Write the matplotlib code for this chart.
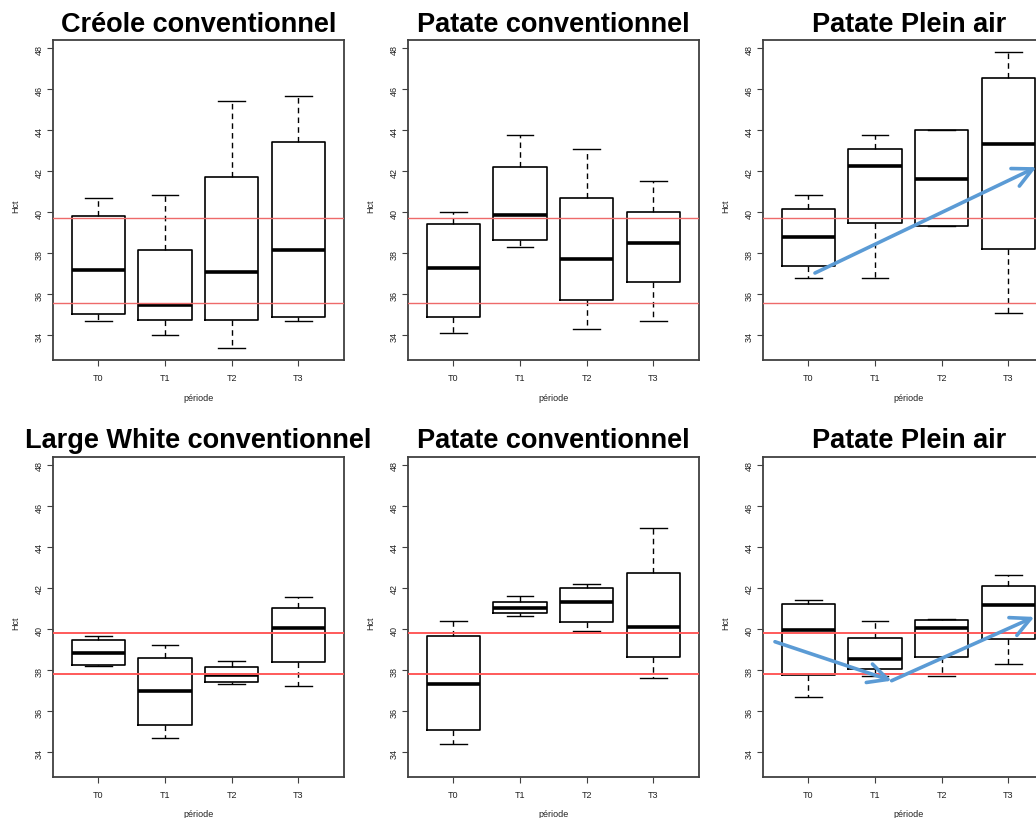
import matplotlib.pyplot as plt

plt.rcParams['font.family'] = ['Liberation Sans', 'DejaVu Sans']

periodes = ['T0', 'T1', 'T2', 'T3']
titres = ['Créole conventionnel', 'Patate conventionnel', 'Patate Plein air',
          'Large White conventionnel', 'Patate conventionnel', 'Patate Plein air']

# bornes de référence (lignes rouges)
ref_haut = [35.6, 39.7]
ref_bas = [37.8, 39.8]

# Créole conventionnel
creole_min = [34.68, 34.00, 33.38, 34.68]
creole_q1 = [35.06, 34.76, 34.76, 34.89]
creole_med = [37.17, 35.49, 37.07, 38.17]
creole_q3 = [39.83, 38.16, 41.73, 43.45]
creole_max = [40.72, 40.82, 45.42, 45.69]

# Patate conventionnel (haut)
patconv1_min = [34.13, 38.30, 34.32, 34.68]
patconv1_q1 = [34.89, 38.66, 35.71, 36.58]
patconv1_med = [37.28, 39.85, 37.72, 38.50]
patconv1_q3 = [39.42, 42.22, 40.72, 40.03]
patconv1_max = [40.03, 43.79, 43.11, 41.54]

# Patate Plein air (haut)
patair1_min = [36.79, 36.79, 39.31, 35.09]
patair1_q1 = [37.39, 39.47, 39.31, 38.21]
patair1_med = [38.81, 42.27, 41.63, 43.32]
patair1_q3 = [40.17, 43.11, 44.02, 46.54]
patair1_max = [40.82, 43.79, 44.02, 47.81]

# Large White conventionnel
lw_min = [38.21, 34.70, 37.33, 37.20]
lw_q1 = [38.24, 35.30, 37.44, 38.37]
lw_med = [38.84, 36.96, 37.77, 40.03]
lw_q3 = [39.46, 38.61, 38.16, 41.00]
lw_max = [39.64, 39.23, 38.42, 41.54]

# Patate conventionnel (bas)
patconv2_min = [34.41, 40.61, 39.90, 37.61]
patconv2_q1 = [35.06, 40.80, 40.35, 38.64]
patconv2_med = [37.31, 41.00, 41.32, 40.12]
patconv2_q3 = [39.65, 41.32, 42.02, 42.71]
patconv2_max = [40.38, 41.62, 42.20, 44.91]

# Patate Plein air (bas)
patair2_min = [36.70, 37.72, 37.72, 38.29]
patair2_q1 = [37.78, 38.04, 38.64, 39.51]
patair2_med = [39.94, 38.56, 40.03, 41.16]
patair2_q3 = [41.24, 39.54, 40.46, 42.09]
patair2_max = [41.41, 40.38, 40.50, 42.62]

# flèches de tendance (début, fin) en coordonnées des données
fleches_haut = [((1.10, 37.04), (4.42, 42.2))]
fleches_bas = [((0.50, 39.38), (2.25, 37.48)), ((2.25, 37.48), (4.39, 40.59))]

panneaux = [
    (creole_min, creole_q1, creole_med, creole_q3, creole_max),
    (patconv1_min, patconv1_q1, patconv1_med, patconv1_q3, patconv1_max),
    (patair1_min, patair1_q1, patair1_med, patair1_q3, patair1_max),
    (lw_min, lw_q1, lw_med, lw_q3, lw_max),
    (patconv2_min, patconv2_q1, patconv2_med, patconv2_q3, patconv2_max),
    (patair2_min, patair2_q1, patair2_med, patair2_q3, patair2_max),
]

W, H = 1036, 818
fig = plt.figure(figsize=(W / 100, H / 100), dpi=100)

gauches = [53.3, 408.3, 763.3]
hauts = [40, 456.7]
larg, haut = 290.7, 320

for i, (mins, q1s, meds, q3s, maxs) in enumerate(panneaux):
    ligne, col = divmod(i, 3)
    ax = fig.add_axes([gauches[col] / W, 1 - (hauts[ligne] + haut) / H, larg / W, haut / H])

    stats = [dict(whislo=a, q1=b, med=c, q3=d, whishi=e)
             for a, b, c, d, e in zip(mins, q1s, meds, q3s, maxs)]
    ax.bxp(stats, positions=[1, 2, 3, 4], widths=0.8, capwidths=0.4,
           showfliers=False, manage_ticks=False,
           boxprops=dict(color='black', lw=1.2),
           medianprops=dict(color='black', lw=2.6, solid_capstyle='butt'),
           whiskerprops=dict(color='black', lw=1.0, linestyle=(0, (4, 3))),
           capprops=dict(color='black', lw=1.0))

    refs = ref_haut if ligne == 0 else ref_bas
    rouge = '#ee6a6a' if ligne == 0 else '#ff5a5a'
    for r in refs:
        ax.axhline(r, color=rouge, lw=1.0 if ligne == 0 else 1.4, zorder=3)

    ax.set_xlim(0.325, 4.685)
    ax.set_ylim(32.8, 48.4)
    ax.set_xticks([1, 2, 3, 4])
    ax.set_xticklabels(periodes)
    ax.set_yticks(range(34, 49, 2))
    ax.tick_params(axis='both', length=4, width=0.8, color='#404040',
                   labelsize=6.5, labelcolor='#222222')
    ax.tick_params(axis='x', pad=6)
    ax.tick_params(axis='y', labelrotation=90, pad=3)
    for s in ax.spines.values():
        s.set_color('#404040')
        s.set_linewidth(1.3)

    ax.set_xlabel('période', fontsize=6.5, color='#222222')
    ax.xaxis.set_label_coords(0.5, -0.105)
    ax.set_ylabel('Hct', fontsize=6.5, color='#222222')
    ax.yaxis.set_label_coords(-0.115, 0.48)
    ax.set_title(titres[i], fontsize=19.5, fontweight='bold', pad=6)

    if col == 2:
        fleches = fleches_haut if ligne == 0 else fleches_bas
        for debut, fin in fleches:
            ax.annotate('', xy=fin, xytext=debut,
                        arrowprops=dict(arrowstyle='->,head_length=1.4,head_width=0.7',
                                        color='#5b9bd5', lw=2.6,
                                        shrinkA=0, shrinkB=0),
                        zorder=5)

fig.savefig('out.png', dpi=100)
